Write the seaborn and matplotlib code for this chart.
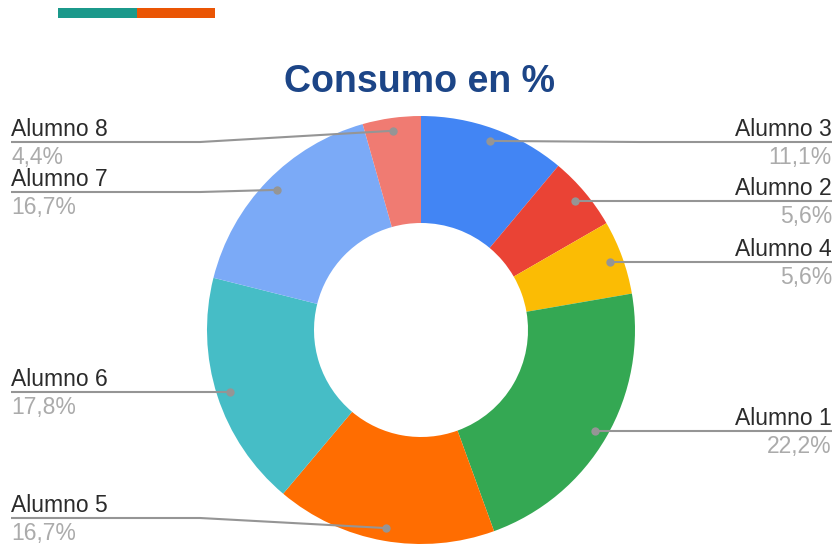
import matplotlib.pyplot as plt
import matplotlib.patches as mpatches
import numpy as np
import seaborn as sns

# datos del gráfico (en orden horario desde las 12)
alumnos = ["Alumno 3", "Alumno 2", "Alumno 4", "Alumno 1",
           "Alumno 5", "Alumno 6", "Alumno 7", "Alumno 8"]
consumo = [11.1, 5.6, 5.6, 22.2, 16.7, 17.8, 16.7, 4.4]
colores = ["#4285F4", "#EA4335", "#FBBC04", "#34A853",
           "#FF6D01", "#46BDC6", "#7BAAF7", "#F07B72"]

sns.set_theme(style="white")
plt.rcParams['font.family'] = ['Liberation Sans', 'DejaVu Sans']

W, H = 835, 544
fig = plt.figure(figsize=(W / 100, H / 100), dpi=100)
ax = fig.add_axes([0, 0, 1, 1])

# centro y radio del anillo (en píxeles, y hacia arriba)
cx, cy, R = 421, H - 330, 214
ax.pie(consumo, colors=colores, startangle=90, counterclock=False,
       center=(cx, cy), radius=R,
       wedgeprops=dict(width=R * 0.5, edgecolor='none', linewidth=0))
ax.set_xlim(0, W)
ax.set_ylim(0, H)
ax.set_aspect('auto')
ax.axis('off')

# barra decorativa arriba a la izquierda
ax.add_patch(mpatches.Rectangle((58, H - 18), 79, 10, color="#1B998B", lw=0))
ax.add_patch(mpatches.Rectangle((137, H - 18), 78, 10, color="#EA5504", lw=0))

# título
ax.text(420, H - 92, "Consumo en %", ha='center', va='baseline',
        fontsize=27, fontweight='bold', color="#1C4587")

# posición de los puntos de las etiquetas
total = sum(consumo)
acum = np.cumsum(consumo)
theta = 2 * np.pi * (acum - np.array(consumo) / 2) / total
r_dot = R * 0.94
dot_x = cx + r_dot * np.sin(theta)
dot_y = cy + r_dot * np.cos(theta)

# resolver la altura de las líneas (en píxeles desde arriba)
line_px = {}
for lado in (True, False):
    idx = [i for i in range(len(alumnos)) if (dot_x[i] > cx) == lado]
    idx.sort(key=lambda i: H - dot_y[i])
    prev = None
    for i in idx:
        ly = min(max(H - dot_y[i], 142), 518)
        if prev is not None and ly < prev + 50:
            ly = prev + 50
        line_px[i] = ly
        prev = ly

gris = "#959595"
for i, nombre in enumerate(alumnos):
    ly = H - line_px[i]
    pct = f"{consumo[i]:.1f}".replace('.', ',') + "%"
    if dot_x[i] > cx:
        xs = [832, 640, dot_x[i]]
        tx, ha = 832, 'right'
    else:
        xs = [11, 200, dot_x[i]]
        tx, ha = 11, 'left'
    ax.plot(xs, [ly, ly, dot_y[i]], color=gris, lw=1.5, solid_capstyle='butt')
    ax.plot(dot_x[i], dot_y[i], 'o', color=gris, ms=6, mec='none')
    ax.text(tx, ly + 6, nombre, ha=ha, va='baseline', fontsize=16.5, color="#2B2B2B")
    ax.text(tx, ly - 22, pct, ha=ha, va='baseline', fontsize=16.5, color="#ABABAB")

fig.savefig("out.png", dpi=100)
